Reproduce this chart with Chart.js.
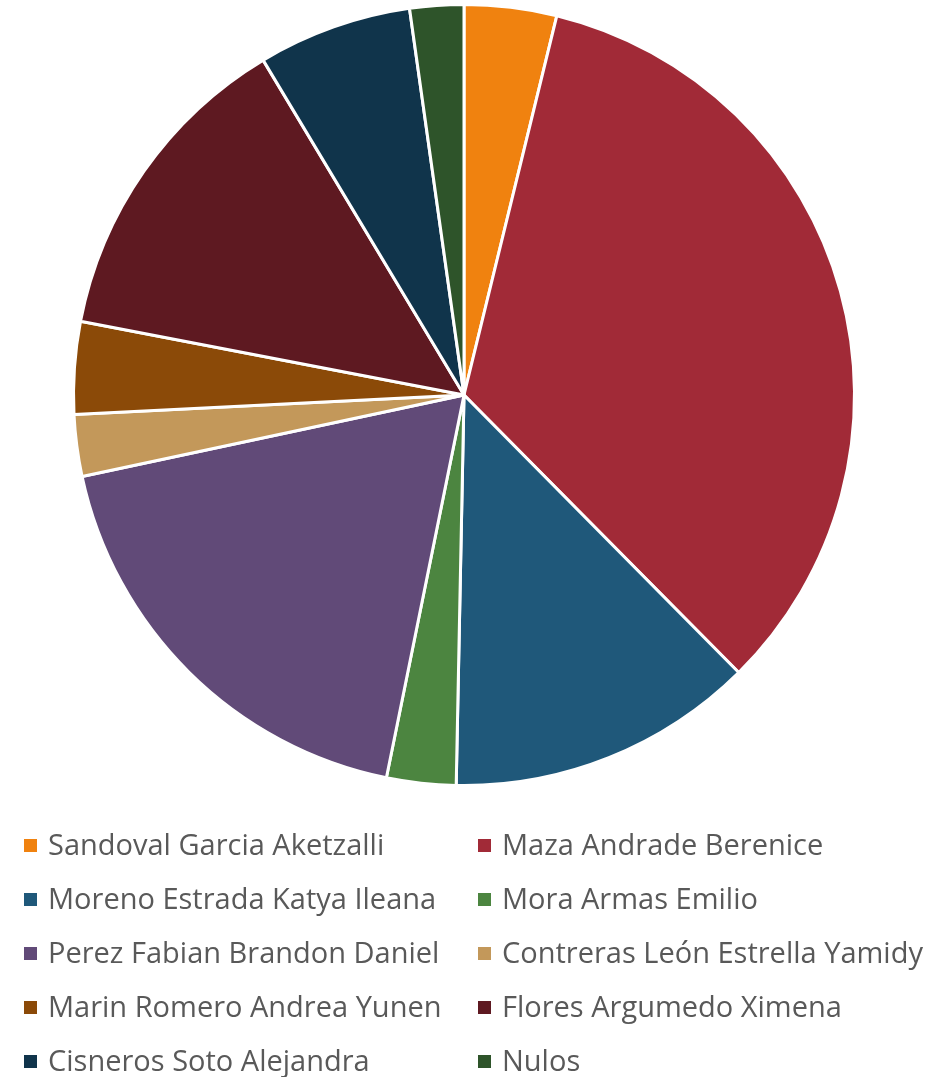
<!DOCTYPE html>
<html>
<head>
<meta charset="utf-8">
<script src="https://cdn.jsdelivr.net/npm/chart.js@4"></script>
<style>
  html, body { margin: 0; padding: 0; background: #fff; }
  #wrap { position: relative; width: 944px; height: 1077px; overflow: hidden; }
  #pieBox { position: absolute; left: 0; top: 0; width: 944px; height: 790px; }
  #legend { position: absolute; left: 0; top: 0; width: 944px; height: 1077px; pointer-events: none; }
  .item { position: absolute; height: 30px; display: flex; align-items: center;
          font-family: "Open Sans", Lato, sans-serif; font-size: 29px; color: #595959; white-space: nowrap; }
  .box { width: 13px; height: 13px; margin-right: 11px; flex: none; position: relative; top: 2px; }
</style>
</head>
<body>
<div id="wrap">
  <div id="pieBox"><canvas id="pieChart"></canvas></div>
  <div id="legend"></div>
</div>
<script>
// datos (votos aproximados)
const candidatos = [
  'Sandoval Garcia Aketzalli',
  'Maza Andrade Berenice',
  'Moreno Estrada Katya Ileana',
  'Mora Armas Emilio',
  'Perez Fabian Brandon Daniel',
  'Contreras León Estrella Yamidy',
  'Marin Romero Andrea Yunen',
  'Flores Argumedo Ximena',
  'Cisneros Soto Alejandra',
  'Nulos'
];
const votos = [12, 106, 40, 9, 58, 8, 12, 42, 20, 7];
const colores = ['#F0820F', '#A12A37', '#1F587A', '#4C8540', '#614A78',
                 '#C3985A', '#8B4A08', '#5E1921', '#10344B', '#2E542A'];

let chart;

function initChart() {
    const ctx = document.getElementById('pieChart').getContext('2d');
    chart = new Chart(ctx, {
        type: 'pie',
        data: {
            labels: candidatos,
            datasets: [{
                data: votos,
                backgroundColor: colores,
                borderColor: '#ffffff',
                borderWidth: 3
            }]
        },
        options: {
            responsive: true,
            maintainAspectRatio: false,
            animation: false,
            layout: { padding: { top: 3, bottom: 3, left: 0, right: 16 } },
            plugins: {
                legend: { display: false },
                tooltip: { enabled: false }
            }
        }
    });

    // leyenda en dos columnas
    const legend = document.getElementById('legend');
    candidatos.forEach((name, i) => {
        const col = i % 2;
        const row = Math.floor(i / 2);
        const div = document.createElement('div');
        div.className = 'item';
        div.style.left = (col === 0 ? 24 : 478) + 'px';
        div.style.top = (843 + row * 54.2 - 15) + 'px';
        const box = document.createElement('span');
        box.className = 'box';
        box.style.background = colores[i];
        const txt = document.createElement('span');
        txt.textContent = name;
        div.appendChild(box);
        div.appendChild(txt);
        legend.appendChild(div);
    });
}

window.onload = initChart;
</script>
</body>
</html>
